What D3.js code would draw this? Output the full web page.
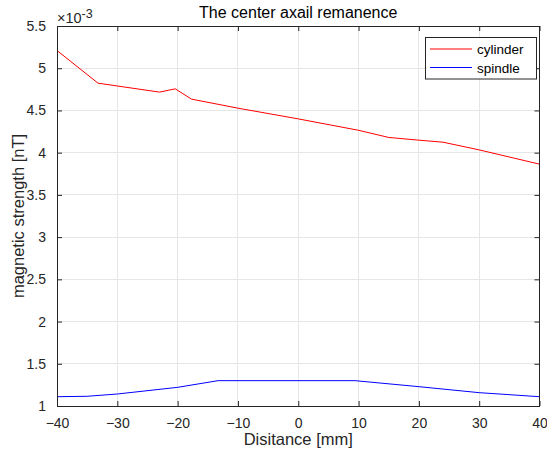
<!DOCTYPE html>
<html><head><meta charset="utf-8">
<script src="https://cdn.jsdelivr.net/npm/d3@7"></script>
<style>body{margin:0;background:#fff}svg{display:block}text{font-family:"Liberation Sans",Arial,sans-serif}</style>
</head><body>
<script>
const cylX = [-40, -33.2, -23, -20.4, -17.7, -10, 0, 10, 15, 20, 24, 30, 40];
const cylY = [5.21, 4.823, 4.717, 4.756, 4.634, 4.527, 4.40, 4.265, 4.18, 4.148, 4.124, 4.033, 3.864];
const spiX = [-40, -35, -30, -20, -13.3, 9.4, 20, 30, 40];
const spiY = [1.11, 1.115, 1.142, 1.221, 1.30, 1.30, 1.229, 1.158, 1.11];
const xTicks = [-40, -30, -20, -10, 0, 10, 20, 30, 40];
const yTicks = [1, 1.5, 2, 2.5, 3, 3.5, 4, 4.5, 5, 5.5];
const seriesNames = ["cylinder", "spindle"];
const seriesColors = ["#ff0000", "#0000ff"];

const W = 547, H = 453;
const L = 57, R = 539.5, T = 26, B = 406;
const svg = d3.select("body").append("svg").attr("width", W).attr("height", H);
const x = d3.scaleLinear().domain([-40, 40]).range([L, R]);
const y = d3.scaleLinear().domain([1, 5.5]).range([B, T]);
const ax = "#262626";

// grid
const g = svg.append("g");
g.selectAll("line.gx").data(xTicks).join("line")
  .attr("x1", d => x(d)).attr("x2", d => x(d)).attr("y1", T).attr("y2", B)
  .attr("stroke", "#e6e6e6").attr("stroke-width", 1).attr("shape-rendering", "crispEdges");
g.selectAll("line.gy").data(yTicks).join("line")
  .attr("y1", d => y(d)).attr("y2", d => y(d)).attr("x1", L).attr("x2", R)
  .attr("stroke", "#e6e6e6").attr("stroke-width", 1).attr("shape-rendering", "crispEdges");

// lines
const line = d3.line().x(d => x(d[0])).y(d => y(d[1]));
const cyl = cylX.map((v, i) => [v, cylY[i]]);
const spi = spiX.map((v, i) => [v, spiY[i]]);
svg.append("path").datum(cyl).attr("d", line).attr("fill", "none").attr("stroke", seriesColors[0]).attr("stroke-width", 1);
svg.append("path").datum(spi).attr("d", line).attr("fill", "none").attr("stroke", seriesColors[1]).attr("stroke-width", 1);

// axes (ticks inside on all sides)
const tl = 5;
svg.append("g").attr("transform", `translate(0,${B})`)
  .call(d3.axisBottom(x).tickValues(xTicks).tickSizeInner(-tl).tickSizeOuter(0).tickPadding(tl + 7).tickFormat(d3.format("d")));
svg.append("g").attr("transform", `translate(0,${T})`)
  .call(d3.axisTop(x).tickValues(xTicks).tickSizeInner(-tl).tickSizeOuter(0).tickFormat(""));
svg.append("g").attr("transform", `translate(${L},0)`)
  .call(d3.axisLeft(y).tickValues(yTicks).tickSizeInner(-tl).tickSizeOuter(0).tickPadding(tl + 6).tickFormat(d => d3.format("")(d)));
svg.append("g").attr("transform", `translate(${R},0)`)
  .call(d3.axisRight(y).tickValues(yTicks).tickSizeInner(-tl).tickSizeOuter(0).tickFormat(""));
svg.selectAll(".domain").remove();
svg.selectAll(".tick line").attr("stroke", ax);
svg.selectAll(".tick text").attr("fill", ax).attr("font-size", 14).attr("font-family", "Liberation Sans, Arial, sans-serif");
svg.append("rect").attr("x", L).attr("y", T).attr("width", R - L).attr("height", B - T)
  .attr("fill", "none").attr("stroke", ax).attr("stroke-width", 1).attr("shape-rendering", "crispEdges");

// exponent
const ex = svg.append("text").attr("x", L).attr("y", 22.5).attr("fill", ax).attr("font-size", 14.5);
ex.append("tspan").text("\u00d710");
ex.append("tspan").attr("dy", -5).attr("font-size", 12.5).text("-3");

// title & labels
svg.append("text").attr("x", (L + R) / 2).attr("y", 18).attr("text-anchor", "middle").attr("font-size", 16).attr("fill", "#000").text("The center axail remanence");
svg.append("text").attr("x", (L + R) / 2).attr("y", 445).attr("text-anchor", "middle").attr("font-size", 16.5).attr("fill", ax).text("Disitance [mm]");
svg.append("text").attr("transform", `translate(24,${(T + B) / 2}) rotate(-90)`).attr("text-anchor", "middle").attr("font-size", 16.5).attr("fill", ax).text("magnetic strength [nT]");

// legend
const lg = svg.append("g");
lg.append("rect").attr("x", 425.5).attr("y", 37.5).attr("width", 111).attr("height", 41.5)
  .attr("fill", "#fff").attr("stroke", ax).attr("stroke-width", 1);
seriesNames.forEach((n, i) => {
  const yy = 49 + i * 18.5;
  lg.append("line").attr("x1", 430).attr("x2", 472).attr("y1", yy).attr("y2", yy).attr("stroke", seriesColors[i]).attr("stroke-width", 1);
  lg.append("text").attr("x", 477).attr("y", yy + 5).attr("font-size", 13.5).attr("fill", "#000").text(n);
});
</script>
</body></html>
